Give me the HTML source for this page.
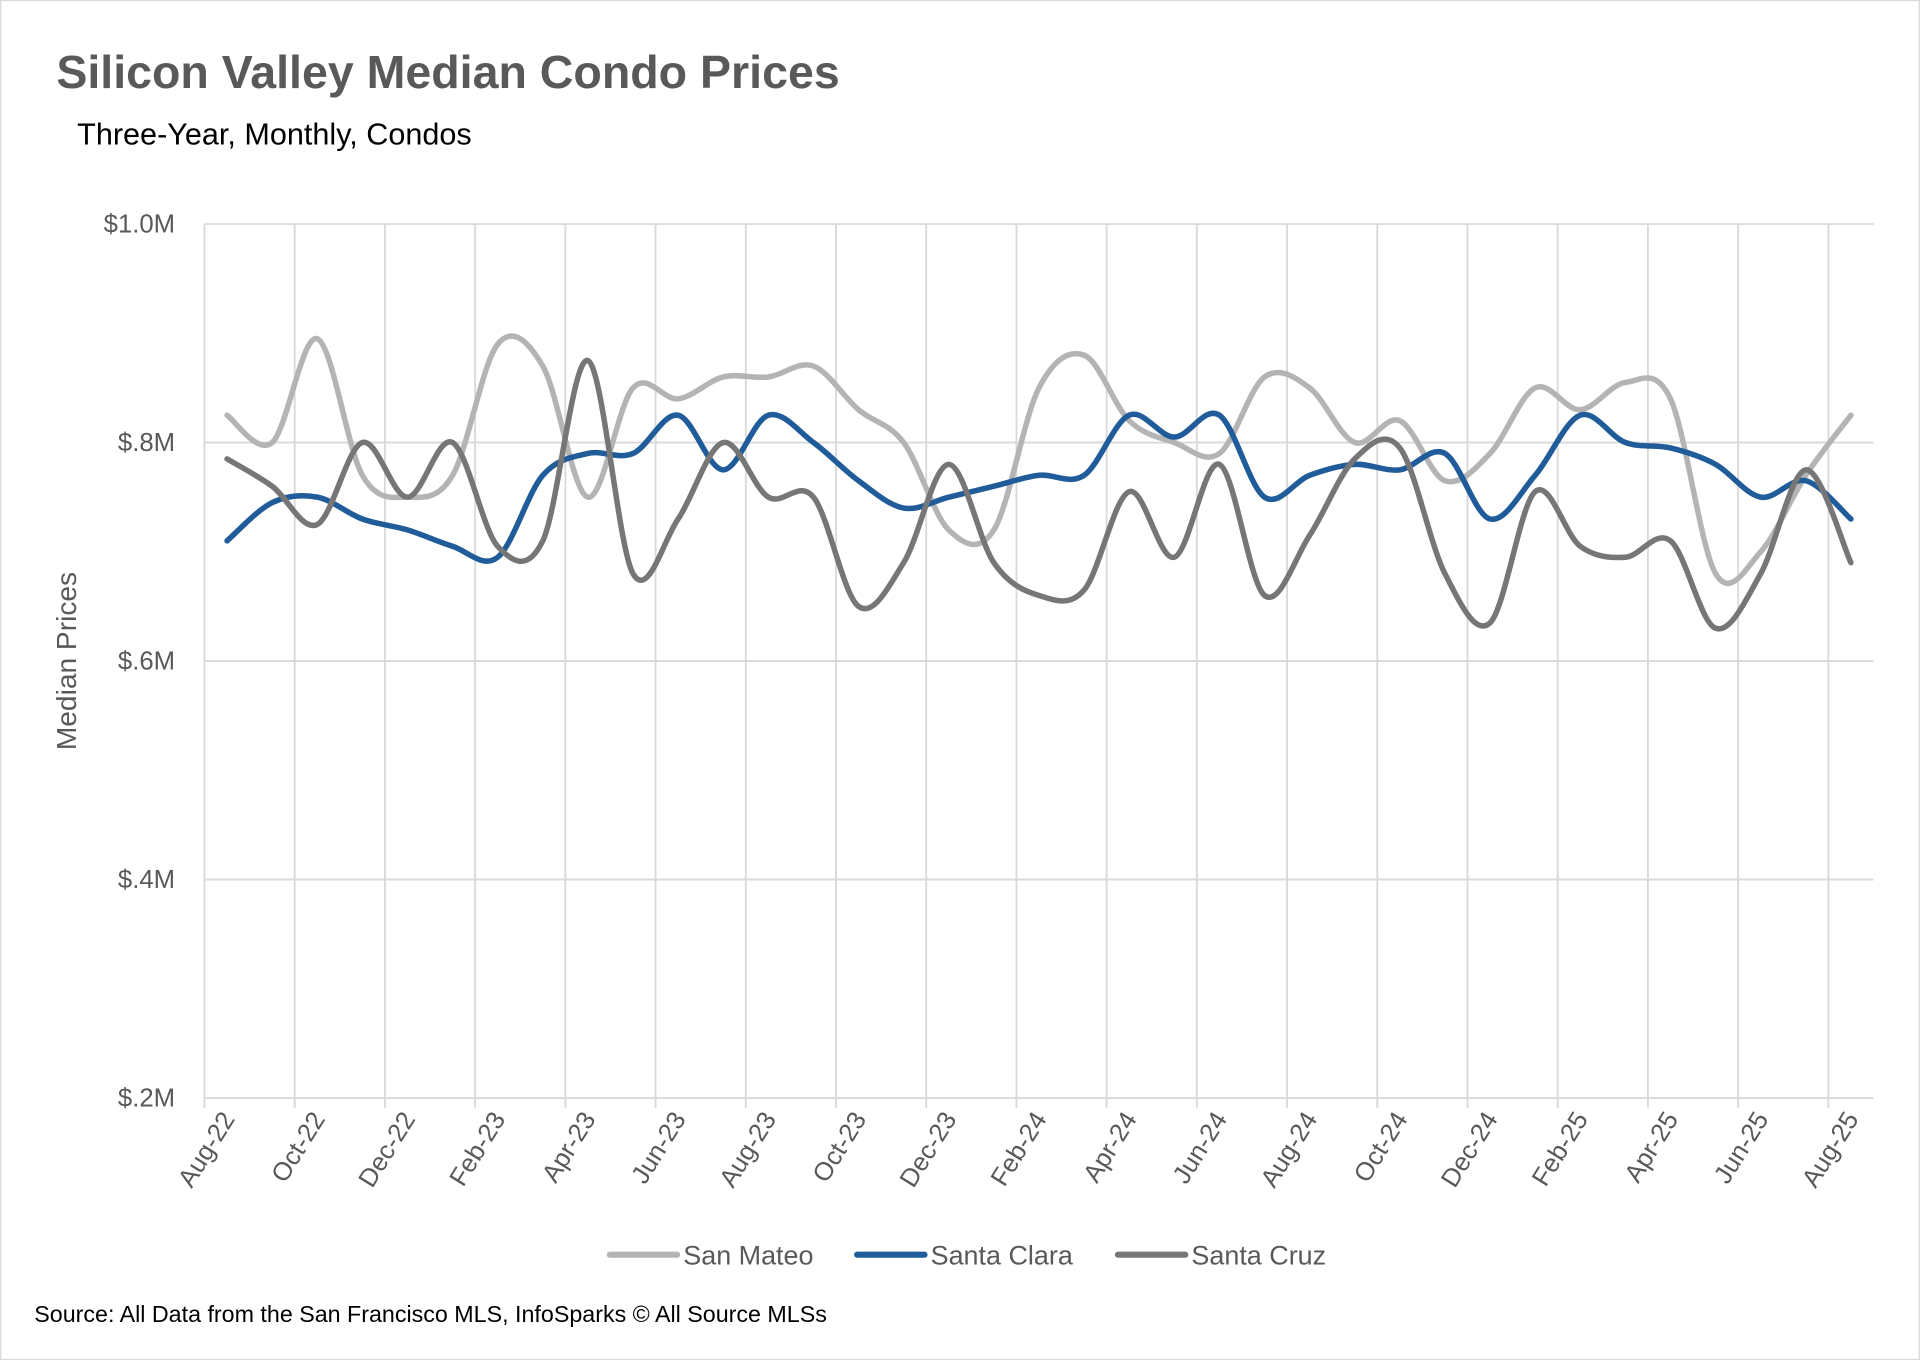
<!DOCTYPE html>
<html><head><meta charset="utf-8"><style>
html,body{margin:0;padding:0;background:#fff;}
svg{display:block;}
text{font-family:"Liberation Sans",sans-serif;}
</style></head><body>
<svg id="chart" width="1920" height="1360" viewBox="0 0 1568 1111" preserveAspectRatio="none" xmlns="http://www.w3.org/2000/svg">
<rect x="0.5" y="0.5" width="1567" height="1110" fill="#fff" stroke="#d9d9d9"/>
<text x="46" y="72" font-size="38" font-weight="bold" fill="#595959">Silicon Valley Median Condo Prices</text>
<text x="63" y="118" font-size="25" fill="#000">Three-Year, Monthly, Condos</text>
<text transform="translate(62,540) rotate(-90)" text-anchor="middle" font-size="23" fill="#595959">Median Prices</text>
<g id="grid"></g>
<g id="yticks"></g>
<g id="xticks"></g>
<g id="series"></g>
<g>
<g><line x1="498" y1="1025" x2="553" y2="1025" stroke="#b4b4b4" stroke-width="5" stroke-linecap="round"/><text x="558" y="1033" font-size="22" fill="#595959">San Mateo</text></g>
<g><line x1="700" y1="1025" x2="755" y2="1025" stroke="#1f5c99" stroke-width="5" stroke-linecap="round"/><text x="760" y="1033" font-size="22" fill="#595959">Santa Clara</text></g>
<g><line x1="913" y1="1025" x2="968" y2="1025" stroke="#767676" stroke-width="5" stroke-linecap="round"/><text x="973" y="1033" font-size="22" fill="#595959">Santa Cruz</text></g>
</g>
<text x="28" y="1080" font-size="19" fill="#000">Source: All Data from the San Francisco MLS, InfoSparks © All Source MLSs</text>
</svg>
<script>
const months = ["Aug-22","Sep-22","Oct-22","Nov-22","Dec-22","Jan-23","Feb-23","Mar-23","Apr-23","May-23","Jun-23","Jul-23","Aug-23","Sep-23","Oct-23","Nov-23","Dec-23","Jan-24","Feb-24","Mar-24","Apr-24","May-24","Jun-24","Jul-24","Aug-24","Sep-24","Oct-24","Nov-24","Dec-24","Jan-25","Feb-25","Mar-25","Apr-25","May-25","Jun-25","Jul-25","Aug-25"];
const sanMateo = [0.825,0.80,0.895,0.77,0.75,0.77,0.89,0.87,0.75,0.85,0.84,0.86,0.86,0.87,0.83,0.80,0.72,0.72,0.85,0.88,0.82,0.80,0.79,0.86,0.85,0.80,0.82,0.765,0.79,0.85,0.83,0.855,0.84,0.68,0.70,0.77,0.825];
const santaClara = [0.71,0.745,0.75,0.73,0.72,0.705,0.695,0.77,0.79,0.79,0.825,0.775,0.825,0.80,0.765,0.74,0.75,0.76,0.77,0.77,0.825,0.805,0.825,0.75,0.77,0.78,0.775,0.79,0.73,0.77,0.825,0.80,0.795,0.78,0.75,0.765,0.73];
const santaCruz = [0.785,0.76,0.725,0.80,0.75,0.80,0.705,0.71,0.875,0.68,0.73,0.80,0.75,0.75,0.65,0.69,0.78,0.69,0.66,0.665,0.755,0.695,0.78,0.66,0.715,0.785,0.795,0.68,0.635,0.755,0.705,0.695,0.71,0.63,0.68,0.775,0.69];
const yTicks = [0.2,0.4,0.6,0.8,1.0];
const yTickLabels = ["$.2M","$.4M","$.6M","$.8M","$1.0M"];

const NS="http://www.w3.org/2000/svg";
const L=167,R=1530,T=183,B=897,yMin=0.2,yMax=1.0;
const n=months.length, bw=(R-L)/n;
const xs=i=>L+(i+0.5)*bw;
const ys=v=>B-(v-yMin)/(yMax-yMin)*(B-T);
function mk(tag,attrs,parent){const e=document.createElementNS(NS,tag);for(const k in attrs)e.setAttribute(k,attrs[k]);parent.appendChild(e);return e;}
const grid=document.getElementById('grid'),yt=document.getElementById('yticks'),xt=document.getElementById('xticks'),sg=document.getElementById('series');
yTicks.forEach((v,i)=>{
  const gl=mk('line',{x1:L,x2:R,y1:ys(v),y2:ys(v),stroke:'#d9d9d9','stroke-width':1.5},grid);
  
  
  const t=mk('text',{x:143,y:ys(v)+7,'text-anchor':'end','font-size':21,fill:'#595959'},yt);
  t.textContent=yTickLabels[i];
  
  
});
for(let i=0;i<=n;i+=2){
  const x=L+i*bw;
  const gl=mk('line',{x1:x,x2:x,y1:T,y2:B+8,stroke:'#d9d9d9','stroke-width':1.5},grid);
  
  
}
for(let i=0;i<n;i+=2){
  const x=xs(i)+7,y=914;
  const t=mk('text',{x:x,y:y,'text-anchor':'end','font-size':21,fill:'#595959',transform:`rotate(-58 ${x} ${y})`},xt);
  t.textContent=months[i];
  
  
}
function smooth(vals){
  const p=vals.map((v,i)=>[xs(i),ys(v)]);
  let d=`M${p[0][0]},${p[0][1]}`;
  for(let i=0;i<p.length-1;i++){
    const p0=p[i-1]||p[i],p1=p[i],p2=p[i+1],p3=p[i+2]||p[i+1];
    const k=1/6;
    d+=` C${p1[0]+(p2[0]-p0[0])*k},${p1[1]+(p2[1]-p0[1])*k} ${p2[0]-(p3[0]-p1[0])*k},${p2[1]-(p3[1]-p1[1])*k} ${p2[0]},${p2[1]}`;
  }
  return d;
}
[[sanMateo,'#b4b4b4','line-san-mateo'],[santaClara,'#1f5c99','line-santa-clara'],[santaCruz,'#767676','line-santa-cruz']].forEach(([vals,c,name])=>{
  const p=mk('path',{d:smooth(vals),fill:'none',stroke:c,'stroke-width':4.5,'stroke-linecap':'round','stroke-linejoin':'round'},sg);
  
  
});
</script>
</body></html>
